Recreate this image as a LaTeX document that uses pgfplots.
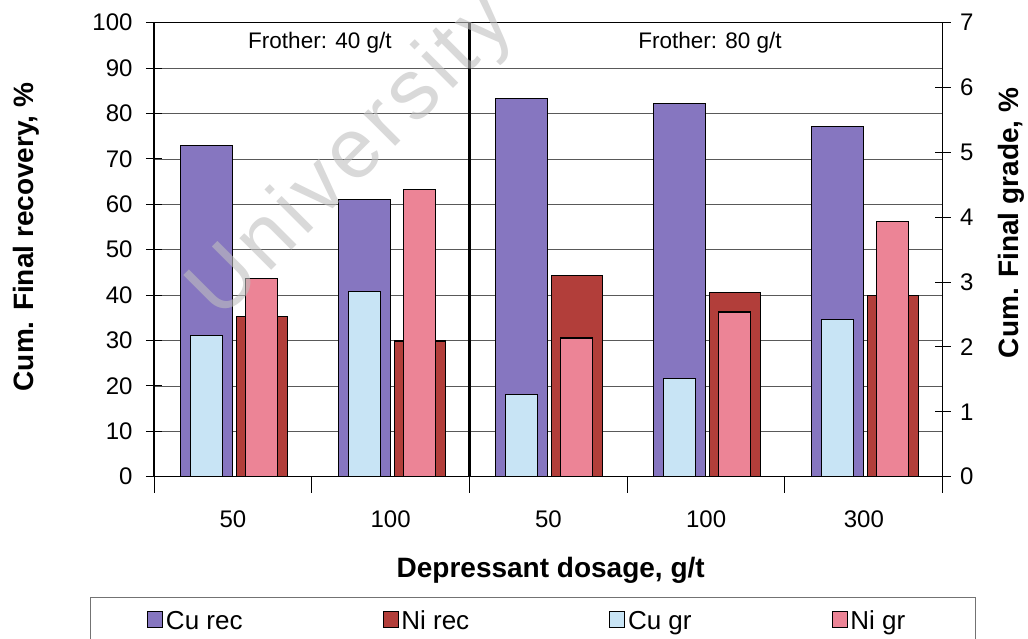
\documentclass[border=0pt]{standalone}
\usepackage{fontspec}
\setmainfont{Liberation Sans}
\usepackage{pgfplots}
\usepackage{pgfplotstable}
\pgfplotsset{compat=1.18}

\definecolor{curec}{RGB}{134,118,192}
\definecolor{nirec}{RGB}{178,62,58}
\definecolor{cugr}{RGB}{200,228,245}
\definecolor{nigr}{RGB}{236,132,150}

% recoveries (%) on the left axis, grades (%) on the right axis
\pgfplotstableread{
pos Curec Nirec Cugr Nigr
0   73.0  35.2  2.18 3.06
1   61.0  29.9  2.85 4.43
2   83.3  44.4  1.27 2.14
3   82.2  40.5  1.52 2.54
4   77.1  39.9  2.43 3.93
}\datatable

\pgfplotsset{
  base/.style={
    scale only axis, width=788.7pt, height=454pt,
    at={(154pt,161.3pt)}, anchor=south west,
    xmin=-0.5, xmax=4.5,
    /pgf/number format/assume math mode=true,
    tick align=center, major tick length=16pt,
    ticklabel style={font=\fontsize{24}{28}\selectfont},
    label style={font=\bfseries\fontsize{28}{32}\selectfont},
    axis line style={black, line width=1.4pt},
    tick style={black, line width=1pt},
  },
  barstyle/.style={ybar, draw=black, line width=1.2pt,
    legend image code/.code={\draw[##1, draw=black, line width=0.8pt] (0pt,-6pt) rectangle (15pt,9.5pt);}},
}

\begin{document}
\begin{tikzpicture}
% primary axis: recoveries
\begin{axis}[base,
  ymin=0, ymax=100, ytick={0,10,...,100},
  ytick pos=left,
  xtick={-0.5,0.5,...,4.5},
  xticklabels={50,100,50,100,300,{}},
  xtick pos=bottom,
  xtick style={yshift=-8pt},
  xticklabel style={xshift=78.87pt, yshift=-23pt},
  yticklabel style={xshift=-10pt},
  ymajorgrids, grid style={black!65, line width=0.8pt},
  ylabel={Cum. Final recovery, \%},
  xlabel={Depressant dosage, g/t},
  ylabel style={at={(axis description cs:-0.1534,0.528)}, anchor=base},
  xlabel style={at={(axis description cs:0.503,-0.221)}, anchor=base},
]
\addplot[barstyle, fill=curec, bar width=52pt, bar shift=-26.5pt] table[x=pos, y=Curec]{\datatable};
\addplot[barstyle, fill=nirec, bar width=51pt, bar shift=29pt] table[x=pos, y=Nirec]{\datatable};
\draw[black, line width=2.5pt] (axis cs:1.5,0) -- (axis cs:1.5,100);
\node[font=\fontsize{22.5}{26}\selectfont] at (axis cs:0.552,95.5) {Frother: 40 g/t};
\node[font=\fontsize{22.5}{26}\selectfont] at (axis cs:3.025,95.5) {Frother: 80 g/t};
\end{axis}

% secondary axis: grades
\begin{axis}[base,
  ymin=0, ymax=7, ytick={0,...,7},
  hide x axis,
  ytick pos=right,
  yticklabel style={xshift=6pt},
  ylabel={Cum. Final grade, \%},
  ylabel style={at={(axis description cs:1.0955,0.559)}, anchor=base},
  legend columns=4,
  legend style={draw=none, fill=none, inner sep=0pt,
    at={(axis description cs:-0.0089,-0.318)}, anchor=west,
    font=\fontsize{26}{30}\selectfont, nodes={inner sep=0pt},
    /tikz/every odd column/.style={column sep=3pt},
    /tikz/every even column/.style={column sep=140pt}},
]
\addlegendimage{barstyle, fill=curec}
\addlegendimage{barstyle, fill=nirec}
\addplot[barstyle, fill=cugr, bar width=32pt, bar shift=-26.5pt] table[x=pos, y=Cugr]{\datatable};
\addplot[barstyle, fill=nigr, bar width=32pt, bar shift=28.5pt] table[x=pos, y=Nigr]{\datatable};
\legend{Cu rec, Ni rec, Cu gr, Ni gr}
\end{axis}

% legend frame
\draw[black!55, line width=1pt] (90pt,-10pt) -- (90pt,41pt) -- (975pt,41pt) -- (975pt,-10pt);

% watermark
\node[rotate=45, anchor=base west, inner sep=0pt,
  font=\fontsize{85}{90}\selectfont\addfontfeature{LetterSpace=6},
  text=black!25, opacity=0.6] at (220pt,316pt) {University of Cape Town};

\pgfresetboundingbox
\path[use as bounding box] (0pt,0pt) rectangle (1028pt,638pt);
\end{tikzpicture}
\end{document}
